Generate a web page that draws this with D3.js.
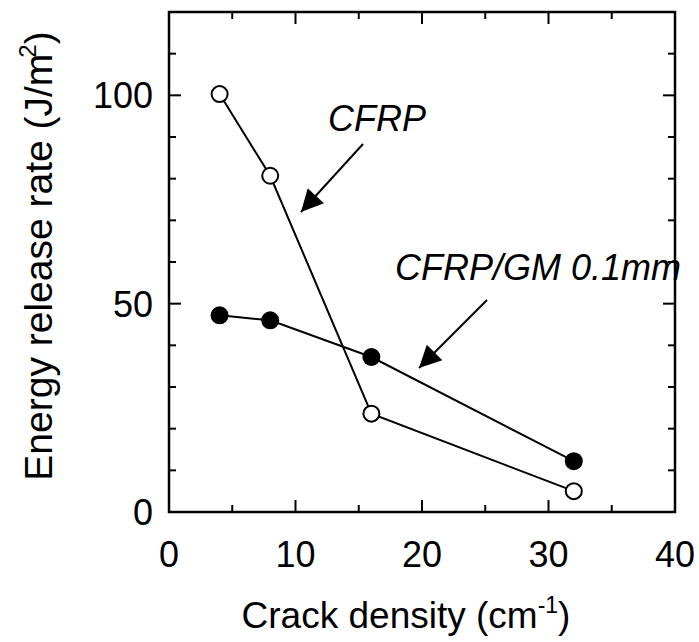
<!DOCTYPE html>
<html>
<head>
<meta charset="utf-8">
<script src="https://cdn.jsdelivr.net/npm/d3@7"></script>
<style>
  body { margin: 0; background: #fff; }
  text { font-family: "Liberation Sans", Arial, sans-serif; fill: #000; }
</style>
</head>
<body>
<svg id="chart" width="699" height="642"></svg>
<script>
// crack density (cm^-1)
var crackDensity = [4, 8, 16, 32];
// energy release rate (J/m^2)
var cfrpValues = [100.3, 80.7, 23.6, 5.0];
var cfrpGmValues = [47.2, 46.0, 37.2, 12.2];
var xTicks = [0, 10, 20, 30, 40];
var yTicks = [0, 50, 100];

var svg = d3.select("#chart");
var pLeft = 169, pRight = 675, pTop = 12, pBottom = 512;

var x = d3.scaleLinear().domain([0, 40]).range([pLeft, pRight]);
var y = d3.scaleLinear().domain([0, 120]).range([pBottom, pTop]);

/*
  frame + inward ticks on all four sides
*/
var g = svg.append("g");

var xMinor = d3.range(0, 41, 5), yMinor = d3.range(0, 121, 10);

xMinor.forEach(function(v) {
  var len = v % 10 === 0 ? 12 : 7;
  g.append("line").attr("x1", x(v)).attr("x2", x(v))
    .attr("y1", pBottom).attr("y2", pBottom - len);
  g.append("line").attr("x1", x(v)).attr("x2", x(v))
    .attr("y1", pTop).attr("y2", pTop + len);
});
yMinor.forEach(function(v) {
  var len = v % 50 === 0 ? 12 : 7;
  g.append("line").attr("y1", y(v)).attr("y2", y(v))
    .attr("x1", pLeft).attr("x2", pLeft + len);
  g.append("line").attr("y1", y(v)).attr("y2", y(v))
    .attr("x1", pRight).attr("x2", pRight - len);
});
g.selectAll("line").attr("stroke", "#000").attr("stroke-width", 2);

g.append("rect")
  .attr("x", pLeft).attr("y", pTop)
  .attr("width", pRight - pLeft).attr("height", pBottom - pTop)
  .attr("fill", "none").attr("stroke", "#000").attr("stroke-width", 2.5);

// tick labels
svg.selectAll(".xlab").data(xTicks).enter().append("text")
  .attr("class", "xlab")
  .attr("x", function(d) { return x(d); })
  .attr("y", 567)
  .attr("text-anchor", "middle")
  .style("font-size", "36px")
  .text(function(d) { return d; });

svg.selectAll(".ylab").data(yTicks).enter().append("text")
  .attr("class", "ylab")
  .attr("x", 153)
  .attr("y", function(d) { return y(d) + 13; })
  .attr("text-anchor", "end")
  .style("font-size", "36px")
  .text(function(d) { return d; });

// axis titles
var xt = svg.append("text")
  .attr("x", 406).attr("y", 628)
  .attr("text-anchor", "middle")
  .style("font-size", "37px");
xt.append("tspan").text("Crack density (cm");
xt.append("tspan").attr("dy", -15).style("font-size", "23px").text("-1");
xt.append("tspan").attr("dy", 15).text(")");

var yt = svg.append("text")
  .attr("transform", "translate(52,256) rotate(-90)")
  .attr("text-anchor", "middle")
  .style("font-size", "39px");
yt.append("tspan").text("Energy release rate (J/m");
yt.append("tspan").attr("dy", -16).attr("dx", -4).style("font-size", "24px").text("2");
yt.append("tspan").attr("dy", 16).text(")");

/*
  series
*/
var line = d3.line()
  .x(function(d) { return x(d[0]); })
  .y(function(d) { return y(d[1]); });

var cfrp = d3.zip(crackDensity, cfrpValues);
var cfrpGm = d3.zip(crackDensity, cfrpGmValues);

[cfrp, cfrpGm].forEach(function(s) {
  svg.append("path").datum(s)
    .attr("d", line)
    .attr("fill", "none")
    .attr("stroke", "#000")
    .attr("stroke-width", 2);
});

svg.selectAll(".open").data(cfrp).enter().append("circle")
  .attr("cx", function(d) { return x(d[0]); })
  .attr("cy", function(d) { return y(d[1]); })
  .attr("r", 8)
  .attr("fill", "#fff").attr("stroke", "#000").attr("stroke-width", 2);

svg.selectAll(".filled").data(cfrpGm).enter().append("circle")
  .attr("cx", function(d) { return x(d[0]); })
  .attr("cy", function(d) { return y(d[1]); })
  .attr("r", 9)
  .attr("fill", "#000");

/*
  annotations
*/
svg.append("defs").append("marker")
  .attr("id", "head")
  .attr("viewBox", "0 0 10 10")
  .attr("refX", 10).attr("refY", 5)
  .attr("markerUnits", "userSpaceOnUse")
  .attr("markerWidth", 28).attr("markerHeight", 22)
  .attr("orient", "auto")
  .append("path").attr("d", "M0,0 L10,5 L0,10 Z").attr("fill", "#000");

function arrow(x1, y1, x2, y2) {
  svg.append("line")
    .attr("x1", x1).attr("y1", y1).attr("x2", x2).attr("y2", y2)
    .attr("stroke", "#000").attr("stroke-width", 2)
    .attr("marker-end", "url(#head)");
}

svg.append("text").attr("x", 328).attr("y", 131)
  .style("font-size", "36px").style("font-style", "italic")
  .text("CFRP");
arrow(363, 144, 301, 212);

svg.append("text").attr("x", 395).attr("y", 280)
  .style("font-size", "36px").style("font-style", "italic")
  .text("CFRP/GM 0.1mm");
arrow(487, 300, 419, 368);
</script>
</body>
</html>
